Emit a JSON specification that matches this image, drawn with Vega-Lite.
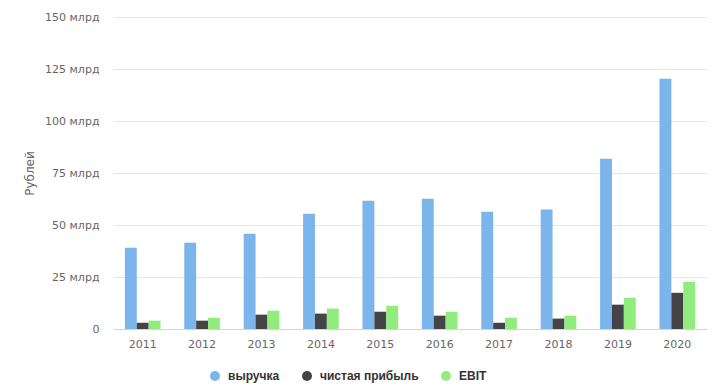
{
  "$schema": "https://vega.github.io/schema/vega-lite/v6.json",
  "width": 594,
  "height": 312,
  "autosize": {"type": "none"},
  "padding": {"left": 113, "top": 17, "right": 17, "bottom": 61},
  "background": "#ffffff",
  "config": {
    "font": "DejaVu Sans",
    "view": {"stroke": null}
  },
  "data": {
    "values": [
      {"year": "2011", "series": "выручка", "value": 39.1},
      {"year": "2011", "series": "чистая прибыль", "value": 3.0},
      {"year": "2011", "series": "EBIT", "value": 4.0},
      {"year": "2012", "series": "выручка", "value": 41.5},
      {"year": "2012", "series": "чистая прибыль", "value": 4.0},
      {"year": "2012", "series": "EBIT", "value": 5.4},
      {"year": "2013", "series": "выручка", "value": 45.8},
      {"year": "2013", "series": "чистая прибыль", "value": 6.9},
      {"year": "2013", "series": "EBIT", "value": 8.8},
      {"year": "2014", "series": "выручка", "value": 55.4},
      {"year": "2014", "series": "чистая прибыль", "value": 7.4},
      {"year": "2014", "series": "EBIT", "value": 9.8},
      {"year": "2015", "series": "выручка", "value": 61.7},
      {"year": "2015", "series": "чистая прибыль", "value": 8.3},
      {"year": "2015", "series": "EBIT", "value": 11.2},
      {"year": "2016", "series": "выручка", "value": 62.6},
      {"year": "2016", "series": "чистая прибыль", "value": 6.4},
      {"year": "2016", "series": "EBIT", "value": 8.3},
      {"year": "2017", "series": "выручка", "value": 56.4},
      {"year": "2017", "series": "чистая прибыль", "value": 3.0},
      {"year": "2017", "series": "EBIT", "value": 5.4},
      {"year": "2018", "series": "выручка", "value": 57.4},
      {"year": "2018", "series": "чистая прибыль", "value": 5.0},
      {"year": "2018", "series": "EBIT", "value": 6.4},
      {"year": "2019", "series": "выручка", "value": 81.9},
      {"year": "2019", "series": "чистая прибыль", "value": 11.7},
      {"year": "2019", "series": "EBIT", "value": 15.0},
      {"year": "2020", "series": "выручка", "value": 120.3},
      {"year": "2020", "series": "чистая прибыль", "value": 17.4},
      {"year": "2020", "series": "EBIT", "value": 22.7}
    ]
  },
  "mark": {"type": "bar"},
  "encoding": {
    "x": {
      "field": "year",
      "type": "nominal",
      "scale": {"paddingInner": 0.4, "paddingOuter": 0.2},
      "axis": {
        "title": null,
        "labelAngle": 0,
        "labelColor": "#666666",
        "labelFontSize": 11,
        "labelPadding": 9,
        "ticks": false,
        "domainColor": "#ccd6eb",
        "domainWidth": 1,
        "grid": false
      }
    },
    "xOffset": {
      "field": "series",
      "type": "nominal",
      "sort": ["выручка", "чистая прибыль", "EBIT"],
      "scale": {"paddingInner": 0, "paddingOuter": 0}
    },
    "y": {
      "field": "value",
      "type": "quantitative",
      "scale": {"domain": [0, 150]},
      "axis": {
        "title": "Рублей",
        "titleColor": "#666666",
        "titleFontSize": 12,
        "titleFontWeight": "normal",
        "titlePadding": 8,
        "values": [0, 25, 50, 75, 100, 125, 150],
        "labelExpr": "datum.value == 0 ? '0' : datum.value + ' млрд'",
        "labelColor": "#666666",
        "labelFontSize": 11,
        "labelPadding": 14,
        "ticks": false,
        "domain": false,
        "gridColor": "#e6e6e6",
        "gridWidth": 1
      }
    },
    "color": {
      "field": "series",
      "type": "nominal",
      "sort": ["выручка", "чистая прибыль", "EBIT"],
      "scale": {
        "domain": ["выручка", "чистая прибыль", "EBIT"],
        "range": ["#7cb5ec", "#434348", "#90ed7d"]
      },
      "legend": {
        "title": null,
        "orient": "none",
        "direction": "horizontal",
        "legendX": 96,
        "legendY": 353,
        "symbolType": "circle",
        "symbolSize": 100,
        "symbolStrokeWidth": 0,
        "labelFont": "Liberation Sans",
        "labelFontSize": 12,
        "labelFontWeight": "bold",
        "labelColor": "#333333",
        "columnPadding": 21,
        "labelOffset": 7
      }
    }
  }
}
